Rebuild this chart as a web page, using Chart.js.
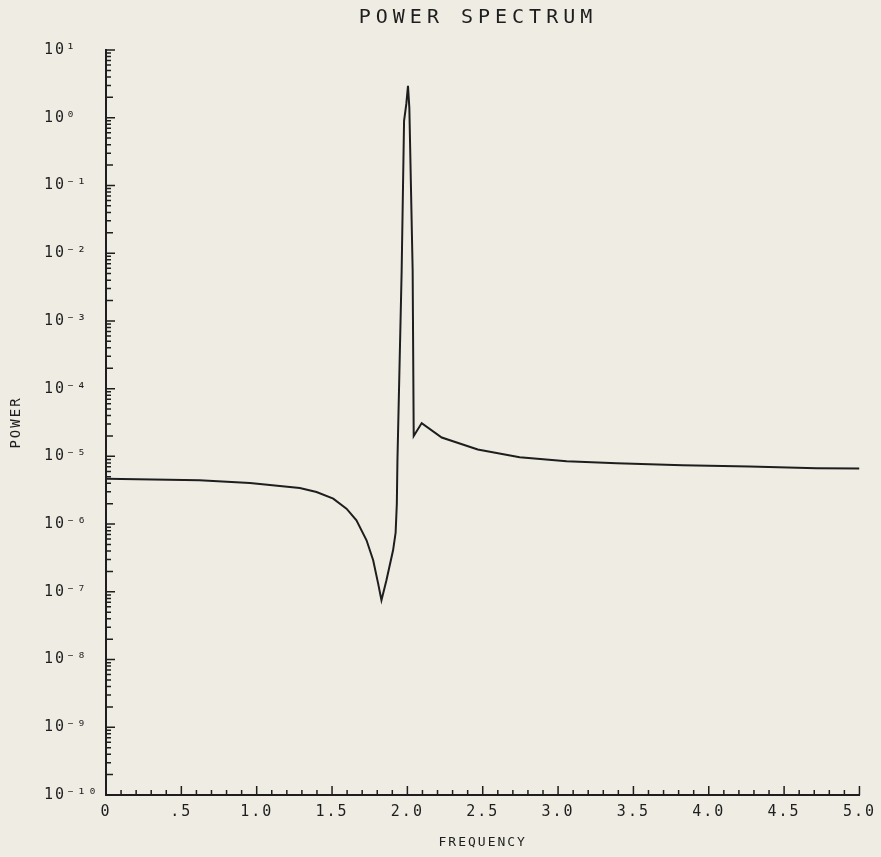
<!DOCTYPE html>
<html>
<head>
<meta charset="utf-8">
<script src="https://cdn.jsdelivr.net/npm/chart.js@4.4.1/dist/chart.umd.min.js"></script>
<style>
  html, body { margin: 0; padding: 0; background: #eeece3; }
  canvas { display: block; }
</style>
</head>
<body>
<canvas id="chart" width="881" height="857"></canvas>
<script>
// ---- data ----
const frequency = [
  0.00, 0.62, 0.955, 1.286, 1.397, 1.508, 1.596, 1.662, 1.729, 1.773, 1.806, 1.828,
  1.861, 1.905, 1.922, 1.930, 1.934, 1.962, 1.978, 1.993, 2.004, 2.013, 2.035, 2.042,
  2.095, 2.228, 2.467, 2.745, 3.057, 3.389, 3.826, 4.27, 4.715, 5.00
];
const power = [
  4.69e-6, 4.43e-6, 4.04e-6, 3.40e-6, 2.97e-6, 2.38e-6, 1.69e-6, 1.14e-6, 5.77e-7, 2.92e-7, 1.32e-7, 7.5e-8,
  1.48e-7, 4.1e-7, 7.5e-7, 2.0e-6, 8.7e-6, 5.5e-3, 0.9, 1.6, 2.96, 1.4, 5.5e-3, 2.0e-5,
  3.1e-5, 1.9e-5, 1.26e-5, 9.7e-6, 8.5e-6, 7.9e-6, 7.4e-6, 7.1e-6, 6.7e-6, 6.6e-6
];

// tick labels
const yTickValues = [1e1, 1e0, 1e-1, 1e-2, 1e-3, 1e-4, 1e-5, 1e-6, 1e-7, 1e-8, 1e-9, 1e-10];
const yTickLabels = ['10¹', '10⁰', '10⁻¹', '10⁻²', '10⁻³', '10⁻⁴', '10⁻⁵', '10⁻⁶', '10⁻⁷', '10⁻⁸', '10⁻⁹', '10⁻¹⁰'];
const xTickValues = [0, 0.5, 1.0, 1.5, 2.0, 2.5, 3.0, 3.5, 4.0, 4.5, 5.0];
const xTickLabels = ['0', '.5', '1.0', '1.5', '2.0', '2.5', '3.0', '3.5', '4.0', '4.5', '5.0'];

const titleText = 'POWER SPECTRUM';
const xTitle = 'FREQUENCY';
const yTitle = 'POWER';

const INK = '#1e1e1e';
const FONT = "'DejaVu Sans Mono', monospace";

const points = frequency.map((f, i) => ({ x: f, y: power[i] }));

// minor / major tick marks drawn inside the axes, through the scales
const axisTicks = {
  id: 'axisTicks',
  afterDraw(chart) {
    const { ctx, chartArea, scales: { x, y } } = chart;
    ctx.save();
    ctx.strokeStyle = INK;
    ctx.lineWidth = 1.5;
    ctx.beginPath();
    for (let e = -10; e <= 0; e++) {
      for (let k = 1; k <= 9; k++) {
        const py = y.getPixelForValue(k * Math.pow(10, e));
        const len = k === 1 ? 9 : (k === 2 ? 7 : 5);
        ctx.moveTo(chartArea.left, py);
        ctx.lineTo(chartArea.left + len, py);
      }
    }
    const pTop = y.getPixelForValue(10);
    ctx.moveTo(chartArea.left, pTop);
    ctx.lineTo(chartArea.left + 9, pTop);
    for (let i = 1; i <= 50; i++) {
      const px = x.getPixelForValue(i / 10);
      const len = i % 5 === 0 ? 9 : 5;
      ctx.moveTo(px, chartArea.bottom);
      ctx.lineTo(px, chartArea.bottom - len);
    }
    ctx.stroke();
    ctx.restore();
  }
};

const spacing = {
  id: 'spacing',
  afterLayout(chart) {
    const t = chart.titleBlock;
    if (t && !t._patched) {
      const orig = t.draw.bind(t);
      t.draw = function (area) {
        const c = chart.ctx;
        const prev = c.letterSpacing;
        c.letterSpacing = '5px';
        orig(area);
        c.letterSpacing = prev;
      };
      t._patched = true;
    }
    if (t) { t.left = 90; t.right = 866; }
  },
  beforeDraw(chart) {
    chart.ctx.letterSpacing = '2px';
  }
};

new Chart(document.getElementById('chart'), {
  type: 'line',
  data: {
    datasets: [{
      data: points,
      borderColor: INK,
      borderWidth: 2,
      pointRadius: 0,
      tension: 0,
      fill: false
    }]
  },
  options: {
    responsive: false,
    devicePixelRatio: 1,
    animation: false,
    layout: { padding: { left: 44, right: 21, top: 0, bottom: 0 } },
    plugins: {
      legend: { display: false },
      tooltip: { enabled: false },
      title: {
        display: true,
        text: titleText,
        color: INK,
        font: { family: FONT, size: 20, weight: 'normal' },
        padding: { top: 6, bottom: 20 }
      }
    },
    scales: {
      x: {
        type: 'linear',
        min: 0,
        max: 5,
        afterBuildTicks: (s) => { s.ticks = xTickValues.map(v => ({ value: v })); },
        afterFit: (s) => { s.height = 62; },
        grid: { display: false, drawTicks: false },
        border: { display: true, color: INK, width: 2 },
        ticks: {
          color: INK,
          padding: 8,
          maxRotation: 0,
          autoSkip: false,
          font: { family: FONT, size: 15 },
          callback: (v) => { const i = xTickValues.indexOf(v); return i >= 0 ? xTickLabels[i] : ''; }
        },
        title: {
          display: true,
          text: xTitle,
          color: INK,
          font: { family: FONT, size: 13 },
          padding: { top: 0, bottom: 7 }
        }
      },
      y: {
        type: 'logarithmic',
        min: 1e-10,
        max: 10,
        afterBuildTicks: (s) => { s.ticks = yTickValues.map(v => ({ value: v })); },
        afterFit: (s) => { s.width = 62; },
        grid: { display: false, drawTicks: false },
        border: { display: true, color: INK, width: 2 },
        ticks: {
          color: INK,
          crossAlign: 'far',
          autoSkip: false,
          font: { family: FONT, size: 15 },
          callback: (v) => {
            const i = yTickValues.findIndex(t => Math.abs(Math.log10(t) - Math.log10(v)) < 1e-6);
            return i >= 0 ? yTickLabels[i] : '';
          }
        },
        title: {
          display: true,
          text: yTitle,
          color: INK,
          font: { family: FONT, size: 14 },
          padding: { top: -36, bottom: 0 }
        }
      }
    }
  },
  plugins: [spacing, axisTicks]
});
</script>
</body>
</html>
